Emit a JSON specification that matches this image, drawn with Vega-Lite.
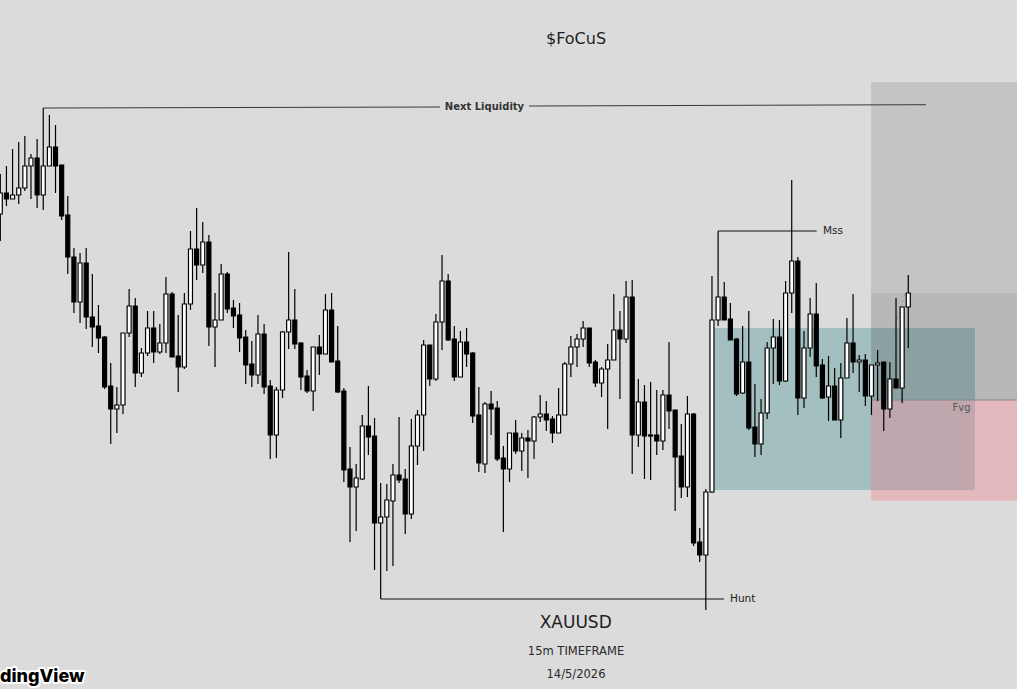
{
  "$schema": "https://vega.github.io/schema/vega-lite/v6.json",
  "description": "XAUUSD 15m candles with Next Liquidity / Mss / Hunt / Fvg annotations",
  "width": 1017,
  "height": 689,
  "autosize": {"type": "fit", "contains": "padding"},
  "padding": 0,
  "background": "#dbdbdb",
  "config": {"view": {"stroke": null}, "font": "DejaVu Sans"},
  "datasets": {
    "candles": [
      {"i":1,"o":786,"h":826,"l":759,"c":807},
      {"i":2,"o":807,"h":834,"l":794,"c":801},
      {"i":3,"o":801,"h":851,"l":801,"c":805},
      {"i":4,"o":805,"h":858,"l":796,"c":812},
      {"i":5,"o":812,"h":864,"l":809,"c":834},
      {"i":6,"o":834,"h":846,"l":801,"c":842},
      {"i":7,"o":842,"h":861,"l":792,"c":805},
      {"i":8,"o":805,"h":892,"l":790,"c":834},
      {"i":9,"o":834,"h":885,"l":834,"c":853},
      {"i":10,"o":853,"h":875,"l":807,"c":834},
      {"i":11,"o":835,"h":835,"l":780,"c":784},
      {"i":12,"o":785,"h":804,"l":726,"c":743},
      {"i":13,"o":743,"h":752,"l":687,"c":698},
      {"i":14,"o":698,"h":747,"l":677,"c":737},
      {"i":15,"o":737,"h":752,"l":671,"c":683},
      {"i":16,"o":683,"h":726,"l":653,"c":673},
      {"i":17,"o":674,"h":695,"l":647,"c":662},
      {"i":18,"o":663,"h":664,"l":611,"c":613},
      {"i":19,"o":614,"h":637,"l":556,"c":591},
      {"i":20,"o":591,"h":613,"l":567,"c":595},
      {"i":21,"o":595,"h":667,"l":586,"c":667},
      {"i":22,"o":667,"h":711,"l":663,"c":694},
      {"i":23,"o":694,"h":702,"l":613,"c":627},
      {"i":24,"o":627,"h":652,"l":623,"c":647},
      {"i":25,"o":647,"h":689,"l":644,"c":672},
      {"i":26,"o":672,"h":689,"l":637,"c":648},
      {"i":27,"o":648,"h":676,"l":646,"c":657},
      {"i":28,"o":657,"h":723,"l":647,"c":706},
      {"i":29,"o":706,"h":708,"l":643,"c":643},
      {"i":30,"o":644,"h":685,"l":608,"c":633},
      {"i":31,"o":633,"h":707,"l":631,"c":696},
      {"i":32,"o":696,"h":769,"l":690,"c":751},
      {"i":33,"o":751,"h":792,"l":720,"c":735},
      {"i":34,"o":735,"h":778,"l":727,"c":758},
      {"i":35,"o":758,"h":765,"l":654,"c":673},
      {"i":36,"o":673,"h":707,"l":633,"c":680},
      {"i":37,"o":680,"h":736,"l":680,"c":726},
      {"i":38,"o":726,"h":728,"l":687,"c":691},
      {"i":39,"o":692,"h":700,"l":672,"c":684},
      {"i":40,"o":685,"h":697,"l":648,"c":662},
      {"i":41,"o":663,"h":670,"l":616,"c":635},
      {"i":42,"o":636,"h":659,"l":613,"c":625},
      {"i":43,"o":625,"h":685,"l":616,"c":666},
      {"i":44,"o":666,"h":676,"l":606,"c":613},
      {"i":45,"o":614,"h":620,"l":541,"c":565},
      {"i":46,"o":565,"h":613,"l":542,"c":610},
      {"i":47,"o":610,"h":669,"l":602,"c":668},
      {"i":48,"o":668,"h":748,"l":651,"c":680},
      {"i":49,"o":680,"h":711,"l":651,"c":656},
      {"i":50,"o":657,"h":658,"l":610,"c":623},
      {"i":51,"o":624,"h":630,"l":607,"c":609},
      {"i":52,"o":609,"h":653,"l":589,"c":653},
      {"i":53,"o":653,"h":665,"l":625,"c":646},
      {"i":54,"o":646,"h":706,"l":646,"c":690},
      {"i":55,"o":690,"h":707,"l":638,"c":638},
      {"i":56,"o":639,"h":674,"l":607,"c":608},
      {"i":57,"o":609,"h":612,"l":518,"c":530},
      {"i":58,"o":531,"h":553,"l":458,"c":513},
      {"i":59,"o":513,"h":536,"l":469,"c":522},
      {"i":60,"o":521,"h":585,"l":520,"c":574},
      {"i":61,"o":574,"h":614,"l":545,"c":563},
      {"i":62,"o":564,"h":582,"l":430,"c":477},
      {"i":63,"o":477,"h":517,"l":401,"c":483},
      {"i":64,"o":483,"h":516,"l":429,"c":500},
      {"i":65,"o":499,"h":536,"l":434,"c":525},
      {"i":66,"o":525,"h":583,"l":517,"c":520},
      {"i":67,"o":521,"h":531,"l":466,"c":486},
      {"i":68,"o":486,"h":581,"l":481,"c":554},
      {"i":69,"o":554,"h":590,"l":535,"c":585},
      {"i":70,"o":585,"h":660,"l":549,"c":655},
      {"i":71,"o":655,"h":655,"l":614,"c":621},
      {"i":72,"o":621,"h":686,"l":619,"c":678},
      {"i":73,"o":678,"h":745,"l":650,"c":719},
      {"i":74,"o":719,"h":726,"l":659,"c":660},
      {"i":75,"o":661,"h":674,"l":619,"c":623},
      {"i":76,"o":623,"h":669,"l":623,"c":658},
      {"i":77,"o":658,"h":672,"l":633,"c":646},
      {"i":78,"o":647,"h":648,"l":577,"c":584},
      {"i":79,"o":585,"h":613,"l":528,"c":537},
      {"i":80,"o":536,"h":598,"l":527,"c":596},
      {"i":81,"o":596,"h":609,"l":565,"c":591},
      {"i":82,"o":592,"h":599,"l":539,"c":541},
      {"i":83,"o":542,"h":554,"l":468,"c":531},
      {"i":84,"o":531,"h":567,"l":518,"c":567},
      {"i":85,"o":567,"h":580,"l":546,"c":549},
      {"i":86,"o":549,"h":567,"l":529,"c":562},
      {"i":87,"o":562,"h":570,"l":522,"c":559},
      {"i":88,"o":559,"h":584,"l":541,"c":583},
      {"i":89,"o":583,"h":605,"l":578,"c":586},
      {"i":90,"o":586,"h":599,"l":569,"c":580},
      {"i":91,"o":581,"h":584,"l":557,"c":567},
      {"i":92,"o":567,"h":612,"l":567,"c":585},
      {"i":93,"o":585,"h":638,"l":585,"c":636},
      {"i":94,"o":636,"h":664,"l":623,"c":653},
      {"i":95,"o":653,"h":666,"l":633,"c":661},
      {"i":96,"o":661,"h":679,"l":653,"c":672},
      {"i":97,"o":672,"h":672,"l":633,"c":637},
      {"i":98,"o":638,"h":640,"l":613,"c":617},
      {"i":99,"o":617,"h":633,"l":603,"c":631},
      {"i":100,"o":631,"h":656,"l":571,"c":640},
      {"i":101,"o":640,"h":706,"l":640,"c":670},
      {"i":102,"o":670,"h":689,"l":601,"c":661},
      {"i":103,"o":661,"h":719,"l":657,"c":703},
      {"i":104,"o":703,"h":720,"l":526,"c":565},
      {"i":105,"o":565,"h":621,"l":553,"c":598},
      {"i":106,"o":598,"h":615,"l":521,"c":564},
      {"i":107,"o":565,"h":618,"l":520,"c":564},
      {"i":108,"o":565,"h":610,"l":545,"c":559},
      {"i":109,"o":559,"h":610,"l":550,"c":605},
      {"i":110,"o":605,"h":658,"l":571,"c":589},
      {"i":111,"o":590,"h":590,"l":489,"c":543},
      {"i":112,"o":544,"h":576,"l":502,"c":513},
      {"i":113,"o":513,"h":604,"l":503,"c":586},
      {"i":114,"o":586,"h":587,"l":454,"c":457},
      {"i":115,"o":458,"h":472,"l":438,"c":445},
      {"i":116,"o":445,"h":511,"l":390,"c":508},
      {"i":117,"o":508,"h":724,"l":507,"c":680},
      {"i":118,"o":680,"h":769,"l":674,"c":703},
      {"i":119,"o":703,"h":718,"l":680,"c":680},
      {"i":120,"o":681,"h":697,"l":660,"c":660},
      {"i":121,"o":661,"h":662,"l":604,"c":606},
      {"i":122,"o":607,"h":674,"l":606,"c":638},
      {"i":123,"o":638,"h":689,"l":570,"c":572},
      {"i":124,"o":573,"h":616,"l":543,"c":556},
      {"i":125,"o":556,"h":601,"l":545,"c":587},
      {"i":126,"o":587,"h":658,"l":581,"c":652},
      {"i":127,"o":652,"h":681,"l":616,"c":663},
      {"i":128,"o":663,"h":680,"l":615,"c":619},
      {"i":129,"o":619,"h":719,"l":618,"c":707},
      {"i":130,"o":707,"h":820,"l":687,"c":739},
      {"i":131,"o":739,"h":743,"l":585,"c":602},
      {"i":132,"o":602,"h":669,"l":592,"c":652},
      {"i":133,"o":652,"h":702,"l":643,"c":686},
      {"i":134,"o":686,"h":717,"l":623,"c":634},
      {"i":135,"o":635,"h":641,"l":601,"c":602},
      {"i":136,"o":603,"h":644,"l":579,"c":614},
      {"i":137,"o":614,"h":632,"l":580,"c":580},
      {"i":138,"o":580,"h":637,"l":562,"c":622},
      {"i":139,"o":622,"h":682,"l":622,"c":657},
      {"i":140,"o":657,"h":706,"l":627,"c":638},
      {"i":141,"o":638,"h":645,"l":608,"c":640},
      {"i":142,"o":640,"h":646,"l":594,"c":604},
      {"i":143,"o":604,"h":635,"l":585,"c":635},
      {"i":144,"o":635,"h":650,"l":599,"c":637},
      {"i":145,"o":638,"h":638,"l":569,"c":591},
      {"i":146,"o":591,"h":638,"l":582,"c":621},
      {"i":147,"o":621,"h":702,"l":612,"c":612},
      {"i":148,"o":612,"h":693,"l":597,"c":693},
      {"i":149,"o":693,"h":725,"l":652,"c":707}
    ]
  },
  "encoding": {
    "x": {"field": "i", "type": "quantitative", "scale": {"domain": [0.951, 166.72], "nice": false, "zero": false, "padding": 0}, "axis": null},
    "y": {"field": "p", "type": "quantitative", "scale": {"domain": [311, 1000], "nice": false, "zero": false}, "axis": null}
  },
  "layer": [
    {
      "data": {"values": [{"i": 117.33, "i2": 159.87, "p": 672, "p2": 510}]},
      "mark": {"type": "rect", "color": "#7eabae", "opacity": 0.6, "clip": true},
      "encoding": {"x2": {"field": "i2"}, "y2": {"field": "p2"}}
    },
    {
      "data": {"values": [{"i": 142.93, "i2": 166.72, "p": 918, "p2": 600}]},
      "mark": {"type": "rect", "color": "#000000", "opacity": 0.1, "clip": true},
      "encoding": {"x2": {"field": "i2"}, "y2": {"field": "p2"}}
    },
    {
      "data": {"values": [{"i": 142.93, "i2": 166.72, "p": 707, "p2": 600}]},
      "mark": {"type": "rect", "color": "#000000", "opacity": 0.06, "clip": true},
      "encoding": {"x2": {"field": "i2"}, "y2": {"field": "p2"}}
    },
    {
      "data": {"values": [{"i": 142.93, "i2": 166.72, "p": 600, "p2": 499.3}]},
      "mark": {"type": "rect", "color": "#f0808f", "opacity": 0.38, "clip": true},
      "encoding": {"x2": {"field": "i2"}, "y2": {"field": "p2"}}
    },
    {
      "data": {"values": [{"i": 142.93, "i2": 166.72, "p": 600, "p2": 600}]},
      "mark": {"type": "rule", "color": "#888888", "strokeWidth": 1, "clip": true},
      "encoding": {"x2": {"field": "i2"}, "y2": {"field": "p2"}}
    },
    {
      "data": {"values": [{"i": 143.25, "i2": 148.47, "p": 600, "p2": 707}]},
      "mark": {"type": "rule", "color": "#9a9a9a", "strokeWidth": 1, "strokeDash": [3, 3], "clip": true},
      "encoding": {"x2": {"field": "i2"}, "y2": {"field": "p2"}}
    },
    {
      "data": {"values": [
        {"i": 7.96, "i2": 72.67, "p": 892, "p2": 893},
        {"i": 87.18, "i2": 151.89, "p": 894, "p2": 895.3}
      ]},
      "mark": {"type": "rule", "color": "#3a3a3a", "strokeWidth": 1, "clip": true},
      "encoding": {"x2": {"field": "i2"}, "y2": {"field": "p2"}}
    },
    {
      "data": {"values": [
        {"i": 118, "i2": 134.07, "p": 769, "p2": 769},
        {"i": 63, "i2": 118.96, "p": 401, "p2": 401}
      ]},
      "mark": {"type": "rule", "color": "#111111", "strokeWidth": 1, "clip": true},
      "encoding": {"x2": {"field": "i2"}, "y2": {"field": "p2"}}
    },
    {
      "data": {"name": "candles"},
      "mark": {"type": "rule", "color": "#000000", "strokeWidth": 1.2, "clip": true},
      "encoding": {
        "y": {"field": "l", "type": "quantitative", "scale": {"domain": [311, 1000], "nice": false, "zero": false}, "axis": null},
        "y2": {"field": "h"}
      }
    },
    {
      "data": {"name": "candles"},
      "mark": {"type": "bar", "width": 4, "stroke": "#000000", "strokeWidth": 1.2, "clip": true},
      "encoding": {
        "y": {"field": "o", "type": "quantitative", "scale": {"domain": [311, 1000], "nice": false, "zero": false}, "axis": null},
        "y2": {"field": "c"},
        "fill": {"condition": {"test": "datum.c >= datum.o", "value": "#ffffff"}, "value": "#000000"}
      }
    },
    {
      "data": {"values": [{"i": 79.92, "p": 893, "t": "Next Liquidity"}]},
      "mark": {"type": "text", "fontSize": 10, "fontWeight": "bold", "color": "#333333", "align": "center", "baseline": "middle", "clip": true},
      "encoding": {"text": {"field": "t"}}
    },
    {
      "data": {"values": [
        {"i": 135.1, "p": 769, "t": "Mss"},
        {"i": 119.94, "p": 401, "t": "Hunt"}
      ]},
      "mark": {"type": "text", "fontSize": 10.5, "color": "#222222", "align": "left", "baseline": "middle", "clip": true},
      "encoding": {"text": {"field": "t"}}
    },
    {
      "data": {"values": [{"i": 157.67, "p": 592, "t": "Fvg"}]},
      "mark": {"type": "text", "fontSize": 10, "color": "#555555", "align": "center", "baseline": "middle", "clip": true},
      "encoding": {"text": {"field": "t"}}
    },
    {
      "data": {"values": [{"i": 94.84, "p": 961, "t": "$FoCuS"}]},
      "mark": {"type": "text", "fontSize": 16, "color": "#1e1e1e", "align": "center", "baseline": "middle", "clip": true},
      "encoding": {"text": {"field": "t"}}
    },
    {
      "data": {"values": [{"i": 94.79, "p": 377, "t": "XAUUSD"}]},
      "mark": {"type": "text", "fontSize": 17, "color": "#1e1e1e", "align": "center", "baseline": "middle", "clip": true},
      "encoding": {"text": {"field": "t"}}
    },
    {
      "data": {"values": [
        {"i": 94.84, "p": 348, "t": "15m TIMEFRAME"},
        {"i": 94.84, "p": 325, "t": "14/5/2026"}
      ]},
      "mark": {"type": "text", "fontSize": 11.5, "color": "#2a2a2a", "align": "center", "baseline": "middle", "clip": true},
      "encoding": {"text": {"field": "t"}}
    },
    {
      "data": {"values": [{"i": 0.951, "p": 323, "t": "dingView"}]},
      "mark": {"type": "text", "font": "Inter", "fontSize": 18, "fontWeight": 800, "color": "#ffffff", "stroke": "#ffffff", "strokeWidth": 4, "strokeJoin": "round", "align": "left", "baseline": "middle", "clip": true},
      "encoding": {"text": {"field": "t"}}
    },
    {
      "data": {"values": [{"i": 0.951, "p": 323, "t": "dingView"}]},
      "mark": {"type": "text", "font": "Inter", "fontSize": 18, "fontWeight": 800, "color": "#000000", "align": "left", "baseline": "middle", "clip": true},
      "encoding": {"text": {"field": "t"}}
    }
  ]
}
